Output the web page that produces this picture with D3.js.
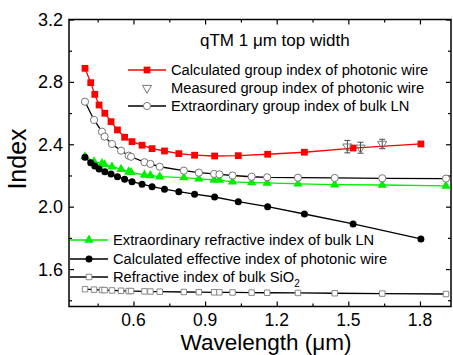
<!DOCTYPE html>
<html>
<head>
<meta charset="utf-8">
<script src="https://cdn.jsdelivr.net/npm/d3@7"></script>
<style>
  body { margin: 0; background: #fff; }
  text { font-family: "Liberation Sans", Arial, sans-serif; }
</style>
</head>
<body>
<svg width="453" height="355"></svg>
<script>
// photonic wire wavelengths (um)
const wireWl = [0.397, 0.421, 0.438, 0.456, 0.48, 0.506, 0.533, 0.563, 0.594, 0.636,
                0.678, 0.73, 0.79, 0.856, 0.94, 1.039, 1.162, 1.316, 1.52, 1.804];
const groupIdx = [2.887, 2.795, 2.72, 2.652, 2.599, 2.545, 2.492, 2.445, 2.417, 2.394,
                  2.372, 2.357, 2.34, 2.33, 2.325, 2.327, 2.336, 2.349, 2.376, 2.402];
const effIdx = [2.317, 2.282, 2.261, 2.242, 2.224, 2.21, 2.192, 2.176, 2.16, 2.144,
                2.128, 2.112, 2.096, 2.08, 2.062, 2.032, 2.0, 1.953, 1.889, 1.793];

// bulk material wavelengths (um)
const bulkWl = [0.397, 0.435, 0.468, 0.479, 0.51, 0.548, 0.58, 0.59, 0.646, 0.671, 0.71,
                0.811, 0.874, 0.938, 0.96, 1.015, 1.095, 1.16, 1.289, 1.443, 1.642, 1.909];
const lnGroup = [2.673, 2.556, 2.481, 2.449, 2.402, 2.359, 2.327, 2.32, 2.285, 2.274, 2.256,
                 2.231, 2.218, 2.21, 2.207, 2.2, 2.192, 2.188, 2.186, 2.184, 2.182, 2.18];
const lnIdx = [2.321, 2.288, 2.278, 2.27, 2.256, 2.24, 2.224, 2.22, 2.203, 2.2, 2.192,
               2.186, 2.178, 2.171, 2.17, 2.159, 2.154, 2.152, 2.146, 2.141, 2.139, 2.133];
const sio2Idx = [1.471, 1.468, 1.466, 1.465, 1.463, 1.461, 1.459, 1.459, 1.457, 1.456, 1.455,
                 1.453, 1.452, 1.451, 1.451, 1.45, 1.449, 1.448, 1.447, 1.445, 1.443, 1.44];

// measured group index
const measWl = [1.496, 1.551, 1.642];
const measIdx = [2.385, 2.378, 2.402];
const measErr = [0.04, 0.035, 0.03];

const xTicks = [0.6, 0.9, 1.2, 1.5, 1.8];
const xMinor = [0.45, 0.75, 1.05, 1.35, 1.65];
const yTicks = [1.6, 2.0, 2.4, 2.8, 3.2];
const yMinor = [1.4, 1.8, 2.2, 2.6, 3.0];

const svg = d3.select('svg');
const pL = 69, pT = 19.5, pR = 451, pB = 306.5;

const xScale = d3.scaleLinear().domain([0.33, 1.93]).range([pL, pR]);
const yScale = d3.scaleLinear().domain([1.36, 3.2]).range([pB, pT]);

const zip = (xs, ys) => xs.map((x, i) => [x, ys[i]]);
const line = d3.line().x(d => xScale(d[0])).y(d => yScale(d[1]));

//axes with inward ticks
function axis(gen, scale, vals, size, tr) {
  const g = svg.append('g').attr('transform', tr)
    .call(gen(scale).tickValues(vals).tickSize(size).tickFormat(''));
  g.select('.domain').remove();
  g.selectAll('line').attr('stroke', '#000').attr('stroke-width', 1.2);
  return g;
}
axis(d3.axisTop, xScale, xTicks, 5, `translate(0,${pB})`);
axis(d3.axisTop, xScale, xMinor, 3, `translate(0,${pB})`);
axis(d3.axisBottom, xScale, xTicks, 5, `translate(0,${pT})`);
axis(d3.axisBottom, xScale, xMinor, 3, `translate(0,${pT})`);
axis(d3.axisRight, yScale, yTicks, 5, `translate(${pL},0)`);
axis(d3.axisRight, yScale, yMinor, 3, `translate(${pL},0)`);
axis(d3.axisLeft, yScale, yTicks, 5, `translate(${pR},0)`);
axis(d3.axisLeft, yScale, yMinor, 3, `translate(${pR},0)`);

svg.append('rect').attr('x', pL).attr('y', pT)
  .attr('width', pR - pL).attr('height', pB - pT)
  .attr('fill', 'none').attr('stroke', '#000').attr('stroke-width', 1.5);

// tick labels
svg.append('g').selectAll('text').data(xTicks).enter().append('text')
  .attr('x', d => xScale(d)).attr('y', 326)
  .attr('text-anchor', 'middle').attr('font-size', 17.5)
  .text(d => d3.format('.1f')(d));
svg.append('g').selectAll('text').data(yTicks).enter().append('text')
  .attr('x', 63).attr('y', d => yScale(d) + 6.5)
  .attr('text-anchor', 'end').attr('font-size', 18)
  .text(d => d3.format('.1f')(d));

svg.append('text').text('Wavelength (\u03bcm)')
  .attr('x', 266).attr('y', 350).attr('text-anchor', 'middle').attr('font-size', 22.5);
svg.append('text').text('Index')
  .attr('transform', 'translate(26,159) rotate(-90)')
  .attr('text-anchor', 'middle').attr('font-size', 25);

const sym = (type, size) => d3.symbol().type(type).size(size)();

// series
function series(pts, lineColor, draw) {
  svg.append('path').datum(pts).attr('d', line)
    .attr('fill', 'none').attr('stroke', lineColor).attr('stroke-width', 1.3);
  const g = svg.append('g');
  g.selectAll('g').data(pts).enter().append('g')
    .attr('transform', d => `translate(${xScale(d[0])},${yScale(d[1])})`)
    .each(function() { draw(d3.select(this)); });
}
const sqRed = s => s.append('path').attr('d', sym(d3.symbolSquare, 46)).attr('fill', '#ff0000');
const openCirc = s => s.append('circle').attr('r', 3.6).attr('fill', '#fff').attr('stroke', '#777').attr('stroke-width', 1);
const triGreen = s => s.append('path').attr('d', sym(d3.symbolTriangle, 38)).attr('fill', '#00ee00');
const dotBlack = s => s.append('circle').attr('r', 3.5).attr('fill', '#000');
const sqOpen = s => s.append('path').attr('d', sym(d3.symbolSquare, 30)).attr('fill', '#fff').attr('stroke', '#888').attr('stroke-width', 1);
const triDown = s => s.append('path').attr('d', sym(d3.symbolTriangle, 36)).attr('transform', 'rotate(180)')
  .attr('fill', 'none').attr('stroke', '#777').attr('stroke-width', 1);

series(zip(bulkWl, sio2Idx), '#000', sqOpen);
series(zip(bulkWl, lnIdx), '#00ee00', triGreen);
series(zip(bulkWl, lnGroup), '#000', openCirc);
series(zip(wireWl, effIdx), '#000', dotBlack);
series(zip(wireWl, groupIdx), '#ff0000', sqRed);

// measured with error bars
const meas = measWl.map((w, i) => ({w, v: measIdx[i], e: measErr[i]}));
const mg = svg.append('g').selectAll('g').data(meas).enter().append('g');
mg.append('line').attr('x1', d => xScale(d.w)).attr('x2', d => xScale(d.w))
  .attr('y1', d => yScale(d.v + d.e)).attr('y2', d => yScale(d.v - d.e))
  .attr('stroke', '#444').attr('stroke-width', 1);
[1, -1].forEach(k => {
  mg.append('line').attr('x1', d => xScale(d.w) - 3).attr('x2', d => xScale(d.w) + 3)
    .attr('y1', d => yScale(d.v + k * d.e)).attr('y2', d => yScale(d.v + k * d.e))
    .attr('stroke', '#444').attr('stroke-width', 1);
});
mg.append('g').attr('transform', d => `translate(${xScale(d.w)},${yScale(d.v)})`)
  .each(function() { triDown(d3.select(this)); });

// title + legends
svg.append('text').text('qTM 1 \u03bcm top width')
  .attr('x', 200).attr('y', 46).attr('font-size', 17);

function legendRow(x1, x2, y, color, draw, label) {
  if (color) svg.append('line').attr('x1', x1).attr('x2', x2).attr('y1', y).attr('y2', y)
    .attr('stroke', color).attr('stroke-width', 1.3);
  const g = svg.append('g').attr('transform', `translate(${(x1 + x2) / 2},${y})`);
  draw(g);
  return svg.append('text').attr('x', x2 + 5).attr('y', y + 5).attr('font-size', 14.7).text(label);
}
legendRow(128, 166, 70, '#ff0000', sqRed, 'Calculated group index of photonic wire');
legendRow(128, 166, 88, null, triDown, 'Measured group index of photonic wire');
legendRow(128, 166, 106, '#000', openCirc, 'Extraordinary group index of bulk LN');

legendRow(70, 108, 240, '#00ee00', triGreen, 'Extraordinary refractive index of bulk LN');
legendRow(70, 108, 259, '#000', dotBlack, 'Calculated effective index of photonic wire');
const t = legendRow(70, 108, 277, '#000', sqOpen, 'Refractive index of bulk SiO');
t.append('tspan').attr('font-size', 10).attr('dy', 5).text('2');
</script>
</body>
</html>
